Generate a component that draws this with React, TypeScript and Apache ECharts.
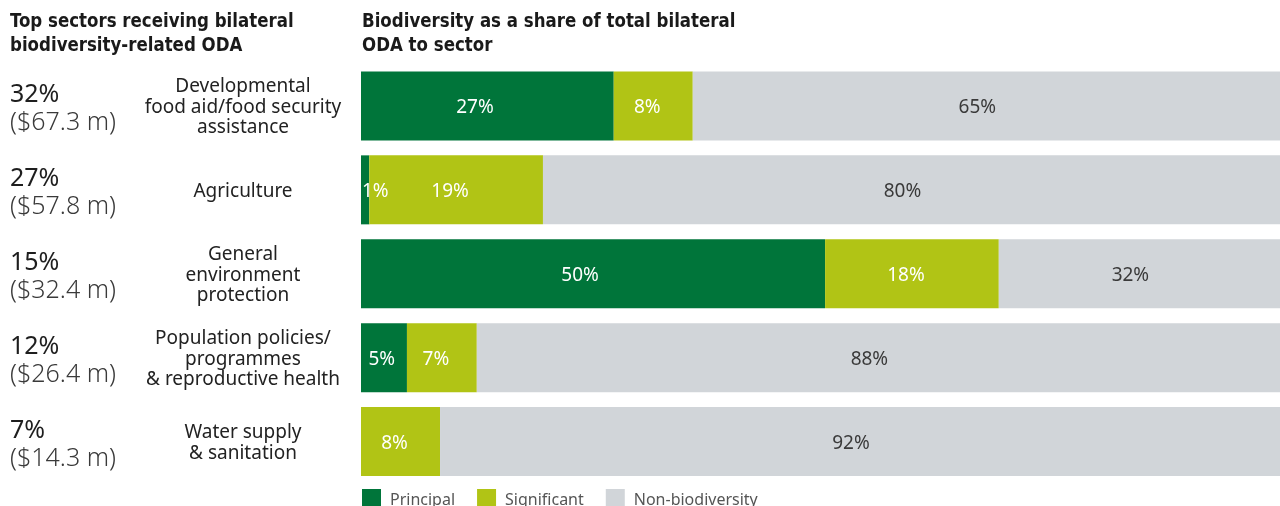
import React, { useEffect, useRef } from "react";
import * as echarts from "echarts";

const sectors = [
  "Developmental\nfood aid/food security\nassistance",
  "Agriculture",
  "General\nenvironment\nprotection",
  "Population policies/\nprogrammes\n& reproductive health",
  "Water supply\n& sanitation",
];
const shareOfOda = ["32%", "27%", "15%", "12%", "7%"];
const amounts = ["($67.3 m)", "($57.8 m)", "($32.4 m)", "($26.4 m)", "($14.3 m)"];

const principal = [27.5, 0.9, 50.5, 5.0, 0];
const significant = [8.6, 18.9, 18.9, 7.6, 8.6];
const nonBiodiversity = [63.9, 80.2, 30.6, 87.4, 91.4];

const principalLabels = ["27%", "1%", "50%", "5%", ""];
const significantLabels = ["8%", "19%", "18%", "7%", "8%"];
const nonBiodiversityLabels = ["65%", "80%", "32%", "88%", "92%"];

const seriesNames = ["Principal", "Significant", "Non-biodiversity"];
const titleLeft = "Top sectors receiving bilateral\nbiodiversity-related ODA";
const titleRight = "Biodiversity as a share of total bilateral\nODA to sector";

const FONT = "'Noto Sans', 'Open Sans', sans-serif";
const TITLE_FONT = "'Liberation Sans Narrow', 'DejaVu Sans Condensed', 'Noto Sans', sans-serif";

export default function App() {
  const ref = useRef<HTMLDivElement>(null);
  useEffect(() => {
    if (!ref.current) return;
    const chart = echarts.init(ref.current, null, { renderer: "svg" });

    const makeData = (vals: number[], principalSeries: boolean) =>
      vals.map((v) => {
        const item: any = { value: v };
        if (principalSeries) {
          if (v > 0 && v < 3) {
            item.label = { position: "insideLeft", distance: 1, offset: [0, 0] };
          } else {
            item.label = { offset: [-Math.min(13, v * 0.45), 0] };
          }
        }
        return item;
      });

    const labelBase = (labels: string[], color: string, offset: number[]) => ({
      show: true,
      position: "inside",
      color,
      fontFamily: FONT,
      fontSize: 19,
      offset,
      formatter: (p: any) => labels[p.dataIndex],
    });

    chart.setOption({
      animation: false,
      grid: { left: 361, right: 0, top: 64, bottom: 22.5, containLabel: false },
      xAxis: { type: "value", min: 0, max: 100, show: false },
      yAxis: [
        {
          type: "category",
          data: sectors,
          inverse: true,
          axisLine: { show: false },
          axisTick: { show: false },
          axisLabel: {
            align: "center",
            margin: 118,
            color: "#222",
            fontFamily: FONT,
            fontSize: 19,
            lineHeight: 20.5,
          },
        },
        {
          type: "category",
          data: sectors,
          inverse: true,
          position: "left",
          axisLine: { show: false },
          axisTick: { show: false },
          axisLabel: {
            align: "left",
            margin: 351,
            formatter: (_v: string, i: number) => `{a|${shareOfOda[i]}}\n{b|${amounts[i]}}`,
            rich: {
              a: { fontFamily: FONT, fontSize: 25, color: "#1e1e1e", lineHeight: 28, align: "left" },
              b: { fontFamily: FONT, fontSize: 25, fontWeight: 300, color: "#3a3a3a", lineHeight: 28, align: "left" },
            },
          },
        },
      ],
      legend: {
        left: 362,
        top: 489,
        padding: 0,
        itemWidth: 19,
        itemHeight: 19,
        itemGap: 22,
        icon: "rect",
        textStyle: { fontFamily: FONT, fontSize: 16, color: "#555", padding: [0, 0, 0, 4] },
        data: seriesNames,
      },
      series: [
        {
          name: seriesNames[0],
          type: "bar",
          stack: "total",
          barWidth: 69,
          itemStyle: { color: "#00753A" },
          label: labelBase(principalLabels, "#fff", [-10, 0]),
          data: makeData(principal, true),
        },
        {
          name: seriesNames[1],
          type: "bar",
          stack: "total",
          barWidth: 69,
          itemStyle: { color: "#B1C415" },
          label: labelBase(significantLabels, "#fff", [-6, 0]),
          data: makeData(significant, false),
        },
        {
          name: seriesNames[2],
          type: "bar",
          stack: "total",
          barWidth: 69,
          itemStyle: { color: "#D1D5D9" },
          label: labelBase(nonBiodiversityLabels, "#3a3a3a", [-9, 0]),
          data: makeData(nonBiodiversity, false),
        },
      ],
      graphic: [
        {
          type: "text",
          x: 10,
          y: 8,
          scaleX: 0.925,
          style: { text: titleLeft, fontFamily: TITLE_FONT, fontWeight: "bold", fontSize: 20, lineHeight: 24, fill: "#1a1a1a" },
        },
        {
          type: "text",
          x: 362,
          y: 8,
          scaleX: 0.925,
          style: { text: titleRight, fontFamily: TITLE_FONT, fontWeight: "bold", fontSize: 20, lineHeight: 24, fill: "#1a1a1a" },
        },
      ],
    });
    return () => chart.dispose();
  }, []);
  return <div ref={ref} style={{ position: "fixed", left: 0, top: 0, width: 1280, height: 506 }} />;
}
